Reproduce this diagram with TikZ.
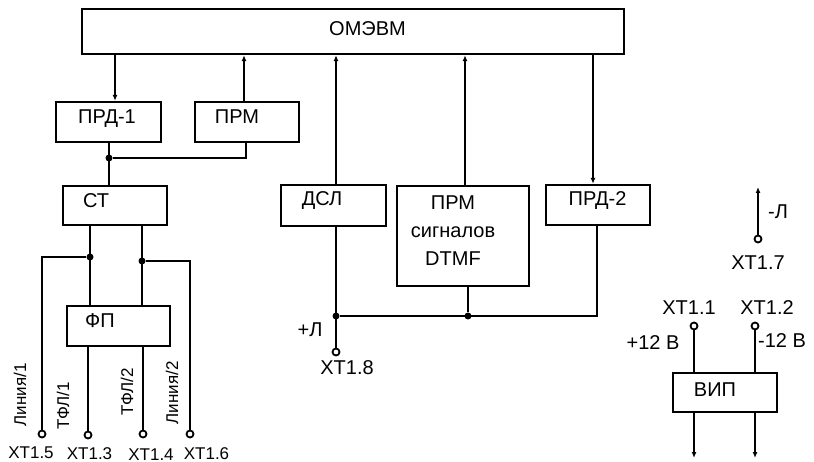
\documentclass[tikz,border=0pt]{standalone}
\usepackage{fontspec}
\setmainfont{Liberation Sans}
\usetikzlibrary{arrows.meta}
\tikzset{
  blok/.style = {draw, line width=2.4pt, inner sep=0pt},
  ttl/.style  = {font=\fontsize{20}{28}\selectfont, inner sep=0pt,
                 text height=14pt, text depth=0pt},
  pin/.style  = {font=\fontsize{17}{20}\selectfont, inner sep=0pt,
                 text height=12pt, text depth=0pt},
  wire/.style = {line width=2.2pt},
  sig/.style  = {wire, -{Latex[length=6pt,width=5pt]}},
  term/.style = {circle, draw, line width=1.8pt, fill=white,
                 minimum size=7pt, inner sep=0pt},
  jn/.style   = {circle, fill, minimum size=7pt, inner sep=0pt},
}

\begin{document}
\begin{tikzpicture}[x=1pt, y=-1pt]
\useasboundingbox (0,0) rectangle (814,462);

\node[blok, minimum width=542pt, minimum height=45pt]  (omevm) at (353,31.5) {};
\node[ttl] (tomevm) at (367.5,29) {ОМЭВМ};

\node[blok, minimum width=105pt, minimum height=40pt]  (prd1) at (108.5,122) {};
\node[ttl] (tprd1) at (107,117) {ПРД-1};
\node[blok, minimum width=104pt, minimum height=40pt]  (prm) at (247,122) {};
\node[ttl] (tprm) at (237,117) {ПРМ};
\node[blok, minimum width=104pt, minimum height=39pt]  (st) at (115,205.5) {};
\node[ttl] (tst) at (96,201) {СТ};
\node[blok, minimum width=103pt, minimum height=40pt]  (fp) at (118.5,326) {};
\node[ttl] (tfp) at (100,321) {ФП};
\node[blok, minimum width=105pt, minimum height=41pt]  (dsl) at (333.5,205.5) {};
\node[ttl] (tdsl) at (322,199) {ДСЛ};
\node[blok, minimum width=132pt, minimum height=100pt] (dtmf) at (463,236) {};
\node[ttl, align=center, text height=, text depth=] (tdtmf) at (453,231)
  {ПРМ\\сигналов\\DTMF};
\node[blok, minimum width=104pt, minimum height=40pt]  (prd2) at (598,205) {};
\node[ttl] (tprd2) at (597.5,199) {ПРД-2};
\node[blok, minimum width=104pt, minimum height=39pt]  (vip) at (725,392.5) {};
\node[ttl] (tvip) at (715,389) {ВИП};

\draw[sig] (omevm.south -| 115,0) -- (prd1.north -| 115,0);
\draw[sig] (prm.north -| 244,0) -- (omevm.south -| 244,0);
\draw[sig] (dsl.north -| 336,0) -- (omevm.south -| 336,0);
\draw[sig] (dtmf.north -| 465,0) -- (omevm.south -| 465,0);
\draw[sig] (omevm.south -| 593,0) -- (prd2.north -| 593,0);

\node[jn] (j1) at (109,158) {};
\draw[wire] (prd1.south -| j1) -- (st.north -| j1);
\draw[wire] (prm.south -| 246,0) |- (j1);

\node[jn] (j2) at (90,257) {};
\node[jn] (j3) at (142,261) {};
\draw[wire] (st.south -| j2) -- (fp.north -| j2);
\draw[wire] (st.south -| j3) -- (fp.north -| j3);

\node[term] (xt15) at (42,434) {};
\node[term] (xt13) at (88,435) {};
\node[term] (xt14) at (143,434) {};
\node[term] (xt16) at (190,434) {};
\draw[wire] (j2) -| (xt15);
\draw[wire] (j3) -| (xt16);
\draw[wire] (fp.south -| xt13) -- (xt13);
\draw[wire] (fp.south -| xt14) -- (xt14);

\node[pin] (lxt15) at (31,452) {ХТ1.5};
\node[pin] (lxt13) at (89.5,453) {ХТ1.3};
\node[pin] (lxt14) at (151,454) {ХТ1.4};
\node[pin] (lxt16) at (206.5,453) {ХТ1.6};
\node[pin, rotate=90] (lin1) at (20,395) {Линия/1};
\node[pin, rotate=90] (tfl1) at (63,406) {ТФЛ/1};
\node[pin, rotate=90] (tfl2) at (127,392) {ТФЛ/2};
\node[pin, rotate=90] (lin2) at (172,393) {Линия/2};

\node[jn] (j4) at (336,316) {};
\node[jn] (j5) at (468,316) {};
\node[term] (xt18) at (336,352) {};
\draw[wire] (dsl.south -| j4) -- (xt18);
\draw[wire] (dtmf.south -| j5) -- (j5);
\draw[wire] (prd2.south -| 597,0) |- (j4);
\node[ttl] (plus) at (310,330) {+Л};
\node[ttl] (lxt18) at (347,367) {ХТ1.8};

\node[term] (xt17) at (758,239) {};
\coordinate (minl) at (758,187);
\draw[sig] (xt17) -- (minl);
\node[ttl] (lmin) at (778,212) {-Л};
\node[ttl] (lxt17) at (758,263) {ХТ1.7};

\node[term] (xt11) at (694,326) {};
\node[term] (xt12) at (755,326) {};
\coordinate (out1) at (694,458);
\coordinate (out2) at (755,458);
\draw[wire] (xt11) -- (vip.north -| xt11);
\draw[wire] (xt12) -- (vip.north -| xt12);
\draw[sig] (vip.south -| out1) -- (out1);
\draw[sig] (vip.south -| out2) -- (out2);
\node[ttl] (lxt11) at (689,308) {ХТ1.1};
\node[ttl] (lxt12) at (767,308) {ХТ1.2};
\node[ttl] (lp12) at (653,342) {+12 В};
\node[ttl] (lm12) at (782,341) {-12 В};
\end{tikzpicture}
\end{document}
